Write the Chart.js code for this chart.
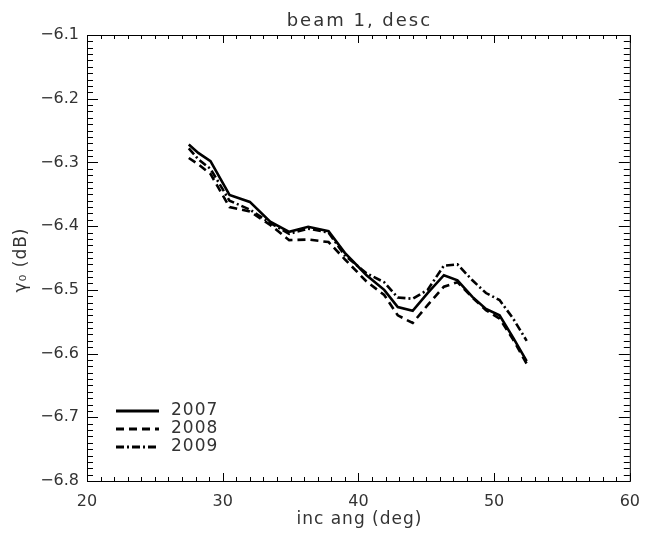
<!DOCTYPE html>
<html>
<head>
<meta charset="utf-8">
<script src="https://cdn.jsdelivr.net/npm/chart.js@4/dist/chart.umd.min.js"></script>
<style>
  html, body { margin: 0; padding: 0; background: #fff; }
  #wrap { width: 651px; height: 539px; }
</style>
</head>
<body>
<div id="wrap"><canvas id="chart" width="651" height="539"></canvas></div>
<script>
// values
const angles = [27.5, 28.2, 29.1, 30.5, 32.0, 33.5, 34.9, 36.3, 37.8, 39.0, 40.6, 41.9, 42.9, 44.0, 45.1, 46.3, 47.3, 48.4, 49.4, 50.4, 51.4, 52.4];
const gamma2007 = [-6.272, -6.285, -6.298, -6.351, -6.362, -6.393, -6.409, -6.401, -6.408, -6.442, -6.477, -6.500, -6.527, -6.533, -6.505, -6.477, -6.485, -6.511, -6.530, -6.540, -6.575, -6.612];
const gamma2008 = [-6.293, -6.303, -6.318, -6.370, -6.377, -6.398, -6.422, -6.421, -6.425, -6.452, -6.487, -6.508, -6.540, -6.552, -6.524, -6.495, -6.488, -6.512, -6.532, -6.545, -6.578, -6.616];
const gamma2009 = [-6.278, -6.295, -6.310, -6.360, -6.374, -6.395, -6.412, -6.404, -6.410, -6.446, -6.474, -6.488, -6.512, -6.514, -6.500, -6.462, -6.460, -6.485, -6.505, -6.516, -6.545, -6.580];
const years = ['2007', '2008', '2009'];
const xTicks = [20, 30, 40, 50, 60];
const yTicks = [-6.8, -6.7, -6.6, -6.5, -6.4, -6.3, -6.2, -6.1];

const FONT = '"DejaVu Sans", sans-serif';
const TXT = '#333';
const dashes = [[], [8, 5], [8, 3, 2, 3]];

const toPts = vals => angles.map((a, i) => ({ x: a, y: vals[i] }));
const datasets = [gamma2007, gamma2008, gamma2009].map((vals, i) => ({
  label: years[i],
  data: toPts(vals),
  borderColor: '#000',
  borderWidth: 2.6,
  borderDash: dashes[i],
  pointRadius: 0,
  tension: 0,
  fill: false
}));

// frame, inward ticks on all four sides, titles and legend
const idlFrame = {
  id: 'idlFrame',
  afterDraw(chart) {
    const { ctx, chartArea: a, scales: { x, y } } = chart;
    ctx.save();
    ctx.strokeStyle = '#000';
    ctx.lineWidth = 1;
    ctx.strokeRect(a.left + 0.5, a.top + 0.5, a.right - a.left, a.bottom - a.top);
    ctx.beginPath();
    for (let v = 20; v <= 60; v++) {
      const px = Math.round(x.getPixelForValue(v)) + 0.5;
      const len = v % 10 === 0 ? 8 : 4;
      ctx.moveTo(px, a.bottom); ctx.lineTo(px, a.bottom - len);
      ctx.moveTo(px, a.top); ctx.lineTo(px, a.top + len);
    }
    for (let k = -680; k <= -610; k++) {
      const py = Math.round(y.getPixelForValue(k / 100)) + 0.5;
      const len = k % 10 === 0 ? 11 : 6;
      ctx.moveTo(a.left, py); ctx.lineTo(a.left + len, py);
      ctx.moveTo(a.right, py); ctx.lineTo(a.right - len, py);
    }
    ctx.stroke();

    ctx.fillStyle = TXT;
    ctx.textAlign = 'center';
    ctx.textBaseline = 'middle';
    ctx.font = '18px ' + FONT;
    ctx.letterSpacing = '2px';
    ctx.fillText('beam 1, desc', (a.left + a.right) / 2 + 1, 21);

    ctx.font = '17px ' + FONT;
    ctx.letterSpacing = '1px';
    ctx.fillText('inc ang (deg)', (a.left + a.right) / 2 + 1, 520);

    ctx.save();
    ctx.translate(22, (a.top + a.bottom) / 2 + 2);
    ctx.rotate(-Math.PI / 2);
    ctx.fillText('\u03b3\u2080 (dB)', 0, 0);
    ctx.restore();

    // legend, bottom left
    ctx.textAlign = 'left';
    chart.data.datasets.forEach((ds, i) => {
      const ly = 411 + i * 18;
      ctx.strokeStyle = '#000';
      ctx.lineWidth = 3;
      ctx.setLineDash(ds.borderDash);
      ctx.beginPath();
      ctx.moveTo(116, ly); ctx.lineTo(159, ly);
      ctx.stroke();
      ctx.setLineDash([]);
      ctx.fillText(ds.label, 171, ly);
    });
    ctx.restore();
  }
};

new Chart(document.getElementById('chart'), {
  type: 'line',
  data: { datasets },
  options: {
    responsive: false,
    animation: false,
    layout: { padding: { left: 0, right: 10, top: 35, bottom: 0 } },
    plugins: { legend: { display: false }, tooltip: { enabled: false } },
    scales: {
      x: {
        type: 'linear', min: 20, max: 60,
        afterBuildTicks: s => { s.ticks = xTicks.map(v => ({ value: v })); },
        afterFit: s => { s.height = 58; },
        grid: { display: false, drawTicks: false },
        border: { display: false },
        ticks: { color: TXT, padding: 11, maxRotation: 0, font: { family: FONT, size: 16 }, callback: v => String(v) }
      },
      y: {
        type: 'linear', min: -6.8, max: -6.1,
        afterBuildTicks: s => { s.ticks = yTicks.map(v => ({ value: v })); },
        afterFit: s => { s.width = 87; },
        grid: { display: false, drawTicks: false },
        border: { display: false },
        ticks: { color: TXT, padding: 8, font: { family: FONT, size: 16 }, callback: v => v.toFixed(1).replace('-', '\u2212') }
      }
    }
  },
  plugins: [idlFrame]
});
</script>
</body>
</html>
